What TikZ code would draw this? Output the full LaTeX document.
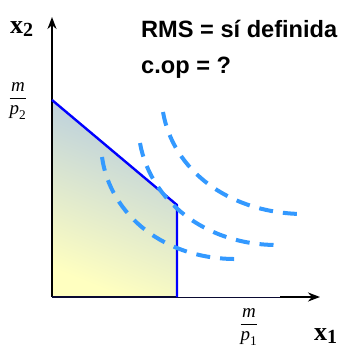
\documentclass[tikz,border=0pt]{standalone}
\usepackage{amsmath}
\usepackage{fontspec}
\setmainfont{Liberation Serif}
\newfontfamily\arialfont{Liberation Sans}
\usetikzlibrary{arrows.meta}
\definecolor{dashblue}{RGB}{51,153,255}
\definecolor{lineblue}{RGB}{0,0,255}
\definecolor{shadeyellow}{RGB}{255,255,192}
\definecolor{shademid}{RGB}{228,236,208}
\definecolor{shadeblue}{RGB}{182,204,224}
\definecolor{axisnavy}{RGB}{10,10,50}

\begin{document}
\begin{tikzpicture}[
  x=1pt,y=-1pt,
  >=Stealth,
  axis/.style={line width=2pt,black},
  budget/.style={line width=2.4pt,lineblue},
  indiff/.style={line width=4pt,dashblue,dash pattern=on 14pt off 10pt},
  note/.style={font=\fontsize{23.6}{26}\selectfont\arialfont\bfseries,anchor=base west,inner sep=0pt},
  axlabel/.style={font=\fontsize{26}{28}\selectfont\bfseries,anchor=base west,inner sep=0pt},
  frac/.style={font=\fontsize{19}{22}\selectfont,inner sep=0pt}
]
  \useasboundingbox (0,0) rectangle (340,354);
  \coordinate (o) at (52,297);
  \coordinate (ytop) at (52,17);
  \coordinate (xend) at (320,297);
  \coordinate (xbreak) at (280,297);
  \coordinate (a) at (52,100);
  \coordinate (b) at (177,205);
  \coordinate (c) at (177,297);

  \shade[bottom color=shadeyellow,middle color=shademid,top color=shadeblue,shading angle=-22]
    (a) -- (b) -- (c) -- (o) -- cycle;

  \draw[axis,->] (o) -- (ytop);
  \draw[axis,axisnavy] (o) -- (c);
  \draw[line width=1pt,axisnavy] (c) -- (xbreak);
  \draw[axis,->] (xbreak) -- (xend);
  \draw[budget,line join=round] (a) -- (b) -- (c);

  \draw[indiff] (102,157) .. controls (110,215) and (165,260) .. (238,259);
  \draw[indiff] (140,143) .. controls (150,200) and (205,245) .. (277,245);
  \draw[indiff] (163,112) .. controls (173,170) and (228,212) .. (300,214);

  \node[note] (rms) at (141,37) {RMS = sí definida};
  \node[note] (cop) at (141,73) {c.op = ?};

  \node[axlabel] (x2) at (10,33) {x\raisebox{-0.3ex}{\fontsize{20}{20}\selectfont 2}};
  \node[axlabel] (x1) at (314,340) {x\raisebox{-0.3ex}{\fontsize{20}{20}\selectfont 1}};
  \node[frac] (mp2) at (18,101) {$\displaystyle\frac{\textit{m}}{\textit{p}_{\text{2}}}$};
  \node[frac] (mp1) at (249,327) {$\displaystyle\frac{\textit{m}}{\textit{p}_{\text{1}}}$};
\end{tikzpicture}
\end{document}
